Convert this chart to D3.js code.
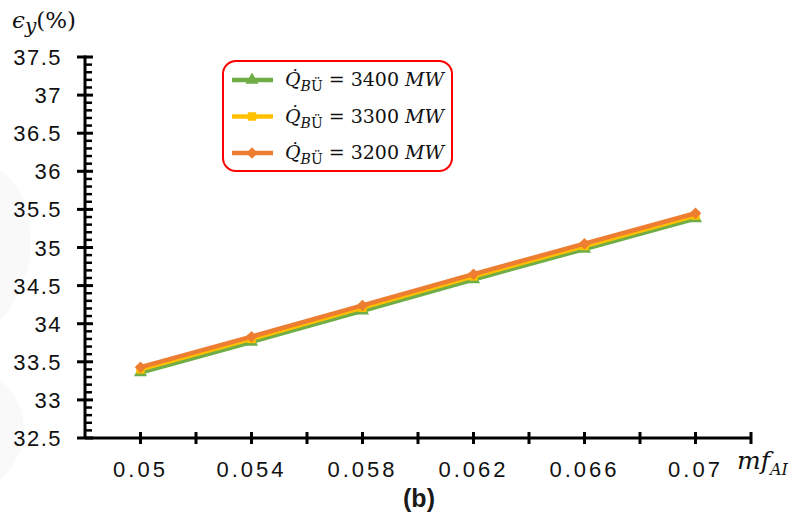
<!DOCTYPE html>
<html>
<head>
<meta charset="utf-8">
<script src="https://cdn.jsdelivr.net/npm/d3@7"></script>
<style>
  body { margin: 0; background: #fff; }
  svg { display: block; }
  .tick-lbl { font-family: "Liberation Sans", Arial, sans-serif; font-size: 22px; fill: #111; }
  .math { font-family: "DejaVu Serif", "Liberation Serif", serif; fill: #111; }
</style>
</head>
<body>
<div id="chart"></div>
<script>
// values
const categories = ["0.05", "0.054", "0.058", "0.062", "0.066", "0.07"];
const q3400 = [33.36, 33.76, 34.17, 34.58, 34.98, 35.38];
const q3300 = [33.40, 33.80, 34.21, 34.62, 35.02, 35.42];
const q3200 = [33.43, 33.83, 34.24, 34.65, 35.05, 35.45];
const yTicks = [32.5, 33, 33.5, 34, 34.5, 35, 35.5, 36, 36.5, 37, 37.5];
const seriesNames = ["3400", "3300", "3200"];

// diamond = square turned 45deg, like excel's marker
const series = [
  { name: seriesNames[0], values: q3400, color: "#70AD47", symbol: d3.symbolTriangle, size: 75, rot: 0 },
  { name: seriesNames[1], values: q3300, color: "#FFC000", symbol: d3.symbolSquare, size: 72, rot: 0 },
  { name: seriesNames[2], values: q3200, color: "#ED7D31", symbol: d3.symbolSquare, size: 66, rot: 45 }
];

const width = 800, height = 516;
const svg = d3.select("#chart").append("svg")
  .attr("width", width).attr("height", height);

const x = d3.scaleBand().domain(categories).range([85, 751]);
const y = d3.scaleLinear().domain([32.5, 37.5]).range([438, 57]);
const bw = x.bandwidth();

// faint watermark on the left edge
svg.append("path")
  .attr("d", "M0,170 Q28,190 30,230 L30,260 Q20,300 0,320 Z M0,380 Q26,400 24,440 Q14,470 0,480 Z")
  .attr("fill", "#f9f9f9");

// y axis
const gy = svg.append("g");
gy.append("line").attr("x1", 85).attr("x2", 85).attr("y1", y(37.5) - 1.5).attr("y2", y(32.5))
  .attr("stroke", "#000").attr("stroke-width", 3);
const minor = [];
yTicks.slice(0, -1).forEach(t => { for (let k = 1; k < 5; k++) minor.push(t + k * 0.1); });
gy.selectAll(".minor").data(minor).enter().append("line")
  .attr("x1", 85).attr("x2", 92).attr("y1", d => y(d)).attr("y2", d => y(d))
  .attr("stroke", "#000").attr("stroke-width", 2.5);
gy.selectAll(".major").data(yTicks).enter().append("line")
  .attr("x1", 77).attr("x2", 93).attr("y1", d => y(d)).attr("y2", d => y(d))
  .attr("stroke", "#000").attr("stroke-width", 3);
gy.selectAll(".ylbl").data(yTicks).enter().append("text")
  .attr("class", "tick-lbl")
  .attr("x", 62).attr("y", d => y(d) + 8)
  .attr("text-anchor", "end")
  .style("letter-spacing", "1.5px")
  .text(d => d);

// x axis
const gx = svg.append("g");
gx.append("line").attr("x1", 85).attr("x2", 752).attr("y1", 438).attr("y2", 438)
  .attr("stroke", "#000").attr("stroke-width", 3);
const xTickPos = [];
categories.forEach(c => { xTickPos.push(x(c)); xTickPos.push(x(c) + bw / 2); });
xTickPos.push(x(categories[categories.length - 1]) + bw);
gx.selectAll(".xt").data(xTickPos.slice(1)).enter().append("line")
  .attr("x1", d => d).attr("x2", d => d).attr("y1", 432).attr("y2", 444)
  .attr("stroke", "#000").attr("stroke-width", 3);
gx.selectAll(".xlbl").data(categories).enter().append("text")
  .attr("class", "tick-lbl")
  .attr("x", d => x(d) + bw / 2).attr("y", 477)
  .attr("text-anchor", "middle")
  .style("letter-spacing", "3px")
  .text(d => d);

// series: line then markers, one series after another
const line = d3.line().x((d, i) => x(categories[i]) + bw / 2).y(d => y(d));
series.forEach(s => {
  const g = svg.append("g");
  g.append("path").datum(s.values).attr("d", line)
    .attr("fill", "none").attr("stroke", s.color).attr("stroke-width", 4.5)
    .attr("stroke-linejoin", "round");
  g.selectAll("path.m").data(s.values).enter().append("path")
    .attr("class", "m")
    .attr("d", d3.symbol().type(s.symbol).size(s.size))
    .attr("transform", (d, i) => `translate(${x(categories[i]) + bw / 2},${y(d)}) rotate(${s.rot})`)
    .attr("fill", s.color);
});

// y axis title
const yt = svg.append("text").attr("class", "math").attr("x", 12).attr("y", 28).style("font-size", "23px");
yt.append("tspan").style("font-style", "italic").text("ϵ");
yt.append("tspan").style("font-style", "italic").style("font-size", "20px").attr("dy", 5).text("y");
yt.append("tspan").attr("dy", -5).text("(%)");

// x axis title
const xt = svg.append("text").attr("class", "math").attr("x", 737).attr("y", 469).style("font-size", "25px");
xt.append("tspan").style("font-style", "italic").text("mf");
xt.append("tspan").style("font-style", "italic").style("font-size", "16px").attr("dy", 6).text("AI");

// (b)
svg.append("text").attr("x", 419).attr("y", 507).attr("text-anchor", "middle")
  .style("font-family", "'Liberation Sans', Arial, sans-serif").style("font-weight", "bold")
  .style("font-size", "25px").attr("fill", "#1a1a1a").text("(b)");

// legend
const lg = svg.append("g");
lg.append("rect").attr("x", 223).attr("y", 61).attr("width", 229).attr("height", 110)
  .attr("rx", 13).attr("fill", "#fff").attr("stroke", "#FF0000").attr("stroke-width", 2);
series.forEach((s, i) => {
  const cy = 80 + i * 36.5;
  lg.append("line").attr("x1", 232).attr("x2", 273).attr("y1", cy).attr("y2", cy)
    .attr("stroke", s.color).attr("stroke-width", 4.5);
  lg.append("path").attr("d", d3.symbol().type(s.symbol).size(s.size)())
    .attr("transform", `translate(252,${cy}) rotate(${s.rot})`).attr("fill", s.color);
  const t = lg.append("text").attr("class", "math").attr("x", 285).attr("y", cy + 6).style("font-size", "19px");
  t.append("tspan").style("font-style", "italic").text("Q\u0307");
  t.append("tspan").style("font-size", "14px").attr("dy", 5)
    .append("tspan").style("font-style", "italic").text("B");
  t.select("tspan:last-child").append("tspan").text("Ü");
  t.append("tspan").attr("dy", -5).text(" = " + s.name + " ");
  t.append("tspan").style("font-style", "italic").text("MW");
});
</script>
</body>
</html>
